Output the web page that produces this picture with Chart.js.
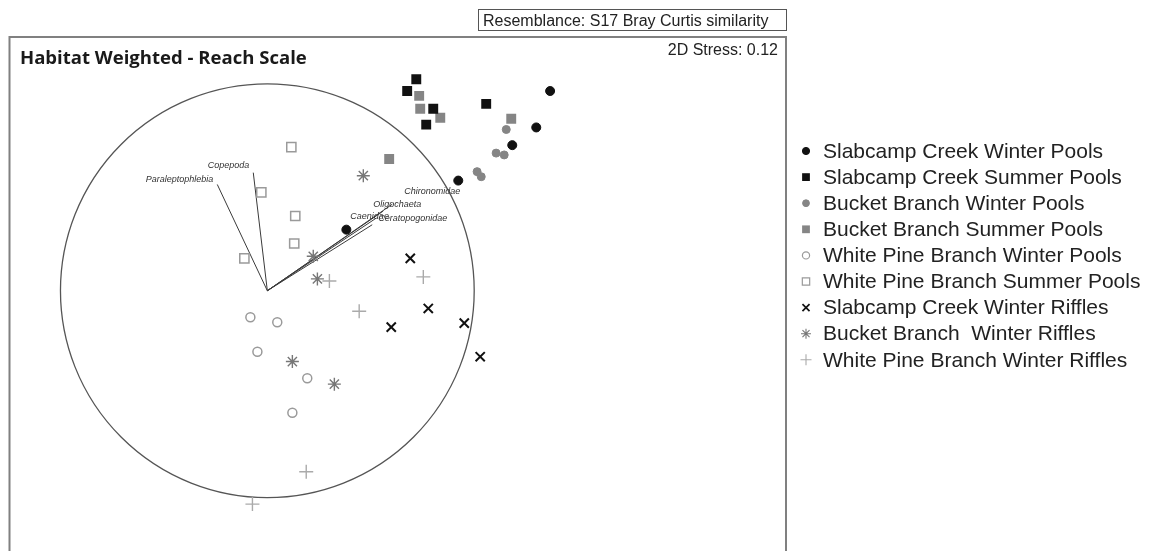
<!DOCTYPE html>
<html><head><meta charset="utf-8">
<script src="https://cdn.jsdelivr.net/npm/chart.js@4.4.0/dist/chart.umd.min.js"></script>
<style>html,body{margin:0;padding:0;background:#fff;overflow:hidden}#wrap{position:relative;width:1155px;height:551px}</style>
</head><body><div id="wrap"><canvas id="c" width="1155" height="551"></canvas></div>
<script>
// ---- DATA (NMDS coordinates; vector circle = radius 1) ----
const chartTitle = 'Habitat Weighted - Reach Scale';
const resemblanceLabel = 'Resemblance: S17 Bray Curtis similarity';
const stressLabel = '2D Stress: 0.12';

const seriesNames = [
  'Slabcamp Creek Winter Pools',
  'Slabcamp Creek Summer Pools',
  'Bucket Branch Winter Pools',
  'Bucket Branch Summer Pools',
  'White Pine Branch Winter Pools',
  'White Pine Branch Summer Pools',
  'Slabcamp Creek Winter Riffles',
  'Bucket Branch  Winter Riffles',
  'White Pine Branch Winter Riffles'
];

const slabcampWinterPoolsX = [1.367, 1.300, 1.184, 0.923, 0.382];
const slabcampWinterPoolsY = [0.981, 0.802, 0.715, 0.541, 0.300];

const slabcampSummerPoolsX = [0.720, 0.676, 0.802, 0.768, 1.058];
const slabcampSummerPoolsY = [1.039, 0.981, 0.894, 0.816, 0.918];

const bucketWinterPoolsX = [1.155, 1.106, 1.145, 1.014, 1.034];
const bucketWinterPoolsY = [0.792, 0.676, 0.667, 0.585, 0.560];

const bucketSummerPoolsX = [0.734, 0.739, 0.836, 1.179, 0.589];
const bucketSummerPoolsY = [0.957, 0.894, 0.850, 0.845, 0.647];

const whitePineWinterPoolsX = [-0.082, 0.048, -0.048, 0.193, 0.121];
const whitePineWinterPoolsY = [-0.130, -0.155, -0.300, -0.430, -0.599];

const whitePineSummerPoolsX = [0.116, -0.029, 0.135, 0.130, -0.111];
const whitePineSummerPoolsY = [0.705, 0.483, 0.367, 0.232, 0.159];

const slabcampWinterRifflesX = [0.691, 0.778, 0.599, 0.952, 1.029];
const slabcampWinterRifflesY = [0.159, -0.087, -0.179, -0.159, -0.324];

const bucketWinterRifflesX = [0.464, 0.222, 0.242, 0.121, 0.324];
const bucketWinterRifflesY = [0.565, 0.169, 0.058, -0.348, -0.459];

const whitePineWinterRifflesX = [0.300, 0.754, 0.444, 0.188, -0.072];
const whitePineWinterRifflesY = [0.048, 0.068, -0.101, -0.889, -1.048];

// Vector overlay (Pearson correlation vectors)
const vectorNames = ['Paraleptophlebia', 'Copepoda', 'Chironomidae', 'Oligochaeta', 'Caenidae', 'Ceratopogonidae'];
const vectorX = [-0.242, -0.068, 0.604, 0.560, 0.527, 0.507];
const vectorY = [0.522, 0.580, 0.425, 0.391, 0.357, 0.324];

// ---- STYLES ----
const seriesX = [slabcampWinterPoolsX, slabcampSummerPoolsX, bucketWinterPoolsX, bucketSummerPoolsX,
  whitePineWinterPoolsX, whitePineSummerPoolsX, slabcampWinterRifflesX, bucketWinterRifflesX, whitePineWinterRifflesX];
const seriesY = [slabcampWinterPoolsY, slabcampSummerPoolsY, bucketWinterPoolsY, bucketSummerPoolsY,
  whitePineWinterPoolsY, whitePineSummerPoolsY, slabcampWinterRifflesY, bucketWinterRifflesY, whitePineWinterRifflesY];

const styles = [
  {ps:'circle', r:4.5, bg:'#111', bc:'#111', bw:1, lr:3.6},
  {ps:'rect', r:7, bg:'#111', bc:'#111', bw:0, lr:5.5},
  {ps:'circle', r:4, bg:'#858585', bc:'#858585', bw:1, lr:3.4},
  {ps:'rect', r:7, bg:'#858585', bc:'#858585', bw:0, lr:5.5},
  {ps:'circle', r:4.5, bg:'rgba(255,255,255,0)', bc:'#9a9a9a', bw:1.5, lr:3.6},
  {ps:'rect', r:6.5, bg:'rgba(255,255,255,0)', bc:'#9a9a9a', bw:1.5, lr:5.2},
  {ps:'crossRot', r:6.5, bg:'#111', bc:'#111', bw:2, lr:5},
  {ps:'star', r:6.5, bg:'#777', bc:'#777', bw:1.4, lr:5},
  {ps:'cross', r:7, bg:'#aaa', bc:'#aaa', bw:1.4, lr:5.5}
];

// pixel layout
const FRAME = {left: 8, top: 36, right: 787};
const PX_PER_UNIT = 207;
const ORIGIN_PX = {x: 267, y: 295};

const datasets = [];
seriesNames.forEach((name, i) => {
  const s = styles[i];
  datasets.push({
    type: 'scatter',
    label: name,
    data: seriesX[i].map((x, k) => ({x: x, y: seriesY[i][k]})),
    pointStyle: s.ps, pointRadius: s.r, backgroundColor: s.bg, borderColor: s.bc, borderWidth: s.bw,
    order: 1
  });
});
vectorNames.forEach((name, i) => {
  datasets.push({
    type: 'line',
    label: name,
    isVector: true,
    data: [{x: 0, y: 0}, {x: vectorX[i], y: vectorY[i]}],
    borderColor: '#3a3a3a', borderWidth: 1, pointRadius: 0, fill: false,
    order: 2
  });
});

const labelOffsets = {
  'Paraleptophlebia': [-4, -5, 'right'],
  'Copepoda': [-4, -7, 'right'],
  'Chironomidae': [12, -13, 'left'],
  'Oligochaeta': [-10, -7, 'left'],
  'Caenidae': [-26, -2, 'left'],
  'Ceratopogonidae': [6, -6, 'left']
};

const W = 1155, H = 551;
const xMin = (FRAME.left - ORIGIN_PX.x) / PX_PER_UNIT;
const xMax = (FRAME.right - ORIGIN_PX.x) / PX_PER_UNIT;
const yMax = (ORIGIN_PX.y - FRAME.top) / PX_PER_UNIT;
const yMin = (ORIGIN_PX.y - H) / PX_PER_UNIT;

const decorPlugin = {
  id: 'decor',
  beforeDatasetsDraw(chart) {
    const ctx = chart.ctx, xs = chart.scales.x, ys = chart.scales.y;
    const cx = xs.getPixelForValue(0), cy = ys.getPixelForValue(0);
    const r = xs.getPixelForValue(1) - cx;
    ctx.save();
    ctx.beginPath();
    ctx.arc(cx, cy, r, 0, Math.PI * 2);
    ctx.strokeStyle = '#555';
    ctx.lineWidth = 1.3;
    ctx.stroke();
    ctx.restore();
  },
  afterDatasetsDraw(chart) {
    const ctx = chart.ctx, xs = chart.scales.x, ys = chart.scales.y;
    ctx.save();
    // vector labels
    ctx.font = 'italic 9px "Liberation Sans", Arial, sans-serif';
    ctx.fillStyle = '#333';
    ctx.textBaseline = 'middle';
    vectorNames.forEach((name, i) => {
      const px = xs.getPixelForValue(vectorX[i]), py = ys.getPixelForValue(vectorY[i]);
      const o = labelOffsets[name];
      ctx.textAlign = o[2];
      ctx.fillText(name, px + o[0], py + o[1]);
    });
    // frame
    const a = chart.chartArea;
    ctx.strokeStyle = '#808080';
    ctx.lineWidth = 2;
    ctx.strokeRect(a.left + 1, a.top + 1, a.right - a.left - 2, a.bottom - a.top + 20);
    // title
    ctx.fillStyle = '#1a1a1a';
    ctx.textAlign = 'left';
    ctx.textBaseline = 'alphabetic';
    ctx.font = 'bold 20px "Open Sans", sans-serif';
    const tw = ctx.measureText(chartTitle).width;
    const fs = 20 * 287 / tw;
    ctx.font = 'bold ' + fs.toFixed(2) + 'px "Open Sans", sans-serif';
    ctx.fillText(chartTitle, 20, 64);
    // stress
    ctx.font = '16px "Liberation Sans", Arial, sans-serif';
    ctx.textAlign = 'right';
    ctx.fillStyle = '#222';
    ctx.fillText(stressLabel, 778, 55);
    // resemblance box
    ctx.strokeStyle = '#555';
    ctx.lineWidth = 1;
    ctx.strokeRect(478.5, 9.5, 308, 21);
    ctx.textAlign = 'left';
    ctx.fillText(resemblanceLabel, 483, 26);
    // legend
    ctx.font = '21px "Liberation Sans", Arial, sans-serif';
    ctx.textBaseline = 'middle';
    seriesNames.forEach((name, i) => {
      const s = styles[i];
      const y = 151 + i * 26.1;
      ctx.fillStyle = s.bg;
      ctx.strokeStyle = s.bc;
      ctx.lineWidth = Math.max(1, s.bw - 0.3);
      Chart.helpers.drawPoint(ctx, {pointStyle: s.ps, radius: s.lr, rotation: 0, borderWidth: s.bw}, 806, y);
      ctx.fillStyle = '#222';
      ctx.textAlign = 'left';
      ctx.fillText(name, 823, y + 1);
    });
    ctx.restore();
  }
};

new Chart(document.getElementById('c'), {
  data: {datasets: datasets},
  options: {
    responsive: false,
    animation: false,
    devicePixelRatio: 1,
    events: [],
    layout: {padding: {left: FRAME.left, top: FRAME.top, right: W - FRAME.right, bottom: 0}},
    scales: {
      x: {type: 'linear', min: xMin, max: xMax, display: false},
      y: {type: 'linear', min: yMin, max: yMax, display: false}
    },
    plugins: {legend: {display: false}, tooltip: {enabled: false}, title: {display: false}}
  },
  plugins: [decorPlugin]
});
</script>
</body></html>
